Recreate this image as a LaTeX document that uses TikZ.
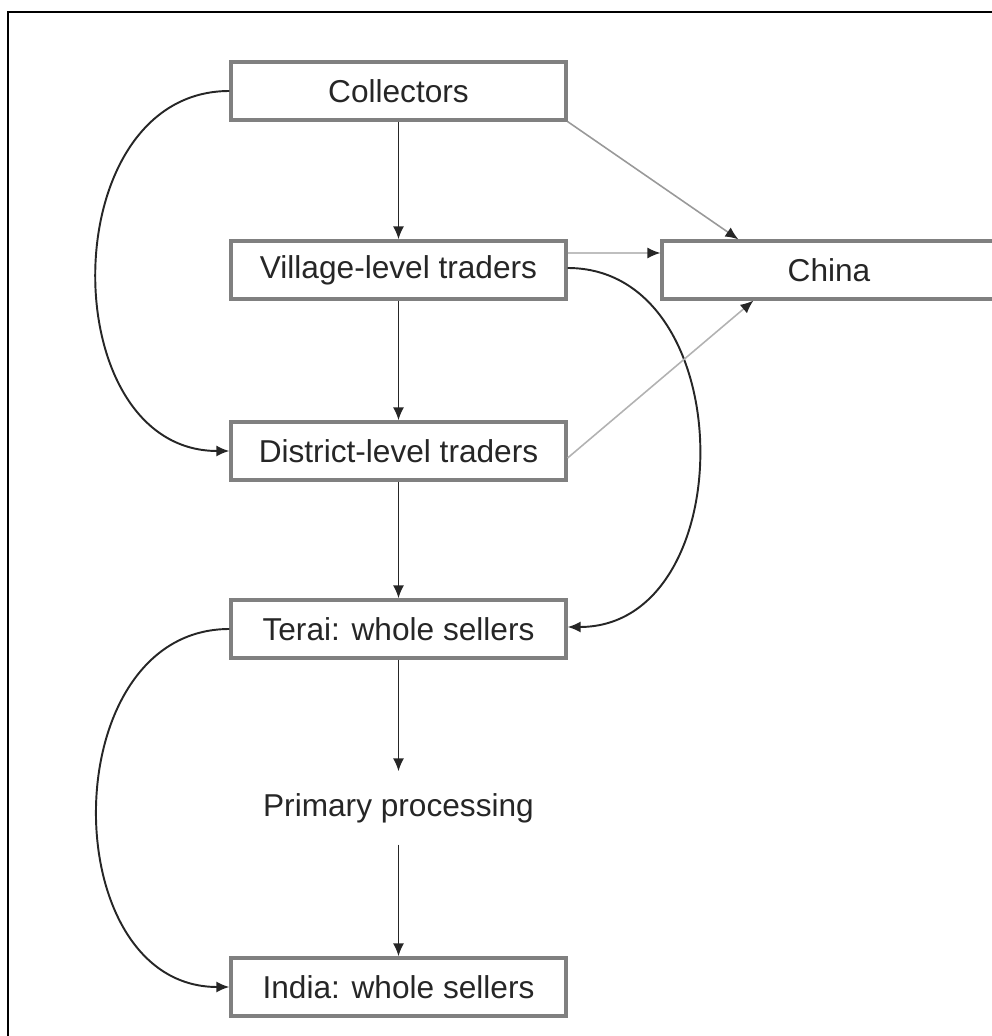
\documentclass[tikz,border=0pt]{standalone}
\usepackage{fontspec}
\setmainfont{Liberation Sans}
\usetikzlibrary{arrows.meta}
\begin{document}
\begin{tikzpicture}[
		box/.style={draw=black!50,line width=1.8pt,minimum width=6.7cm,minimum height=1.16cm,text=black!85,font=\fontsize{18}{21}\selectfont},
		flow/.style={black!85,line width=1.1pt,-{Latex[length=2.6mm,width=2.2mm]}},
		side/.style={black!40,line width=0.9pt,-{Latex[length=2.6mm,width=2.2mm,color=black!85]}}]
				\useasboundingbox (0,0) rectangle (19.84,20.72);
				\draw[line width=1pt] (0.16,0) -- (0.16,20.48) -- (19.84,20.48);
				\node[box] (coll) at (7.97,18.9) {Collectors};
				\node[box] (vill) at (7.97,15.32) {Village-level traders};
				\node[box] (dist) at (7.97,11.7) {District-level traders};
				\node[box] (terai) at (7.97,8.14) {Terai: whole sellers};
				\node[box,draw=none,minimum height=1.4cm] (prim) at (7.97,4.56) {Primary processing};
				\node[box] (india) at (7.97,0.98) {India: whole sellers};
				\node[box,minimum width=6.68cm] (china) at (16.58,15.32) {China};
				\draw[flow] (coll) -- (vill);
				\draw[flow] (vill) -- (dist);
				\draw[flow] (dist) -- (terai);
				\draw[flow] (terai) -- (prim);
				\draw[flow] (prim) -- (india);
				\draw[flow] (coll.west) to[out=180,in=180,looseness=1.26] (dist.west);
				\draw[flow] (terai.west) to[out=180,in=180,looseness=1.26] (india.west);
				\draw[flow] ([yshift=0.04cm]vill.east) to[out=0,in=0,looseness=1.25] ([yshift=0.04cm]terai.east);
				\draw[side] (coll.south east) -- ([xshift=1.56cm]china.north west);
				\draw[side,black!25] ([yshift=0.34cm]vill.east) -- ([yshift=0.34cm]china.west);
				\draw[side,black!30] ([yshift=-0.14cm]dist.east) -- ([xshift=1.86cm]china.south west);
		\end{tikzpicture}
\end{document}
